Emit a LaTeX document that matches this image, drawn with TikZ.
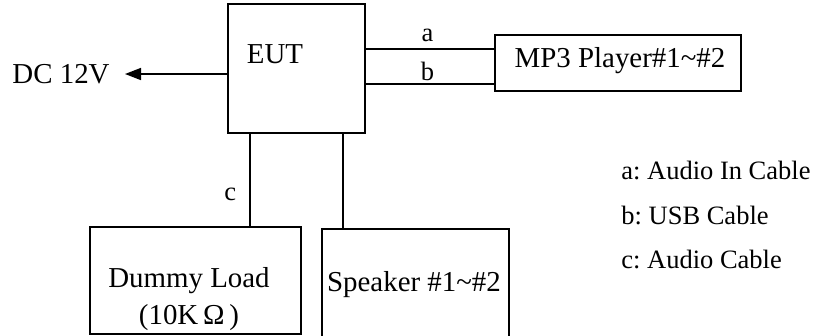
\documentclass[tikz,border=0pt]{standalone}
\usepackage{fontspec}
\setmainfont{Liberation Serif}
\usetikzlibrary{arrows.meta,positioning}
\frenchspacing

\begin{document}
\begin{tikzpicture}[
x=0.5bp, y=-0.5bp,
every node/.style={font=\fontsize{14.5}{18.5}\selectfont, inner sep=0pt},
box/.style={draw, rectangle, line width=0.9bp, inner sep=0pt},
lbl/.style={font=\fontsize{13.3}{22.5}\selectfont, inner sep=0pt},
wire/.style={line width=0.8bp},
arr/.style={-{Triangle[length=8bp,width=6bp]}, line width=0.8bp, shorten >=7.5bp}
]
\useasboundingbox (0,0) rectangle (814,335);

% boxes
\node[box, minimum width=68.5bp, minimum height=64.5bp] (eut) at (296.5,68.5) {};
\node (eutT) at (275,54) {EUT};
\node[box, minimum width=123bp, minimum height=28bp] (mp3) at (618,63) {};
\node (mp3T) at (620,61) {MP3 Player\#1\textasciitilde\#2};
\node[box, minimum width=105.5bp, minimum height=53.5bp] (dummy) at (195.5,280.5) {};
\node[align=center] (dummyT) at (189,299) {Dummy Load\\(10K\,Ω\,)};
\node[box, minimum width=93.5bp, minimum height=60.5bp] (speaker) at (415.5,289.5) {};
\node (speakerT) at (414,285) {Speaker \#1\textasciitilde\#2};

% power
\node[anchor=east] (dc) at (110,74) {DC 12V};
\draw[arr] (eut.west |- dc) -- (dc.east);

% cables
\coordinate (ya) at (0,49);
\coordinate (yb) at (0,84);
\coordinate (xc) at (250,0);
\coordinate (xs) at (343,0);
\draw[wire] (eut.east |- ya) -- node[lbl, above=3bp, pos=0.48] (la) {a} (mp3.west |- ya);
\draw[wire] (eut.east |- yb) -- node[lbl, above=1bp, pos=0.48] (lb) {b} (mp3.west |- yb);
\draw[wire] (eut.south -| xc) -- node[lbl, left=6.5bp, pos=0.66] (lc) {c} (dummy.north -| xc);
\draw[wire] (eut.south -| xs) -- (speaker.north -| xs);

% legend
\node[lbl, align=left, anchor=west] (legend) at (621,215) {a: Audio In Cable\\b: USB Cable\\c: Audio Cable};
\end{tikzpicture}
\end{document}
